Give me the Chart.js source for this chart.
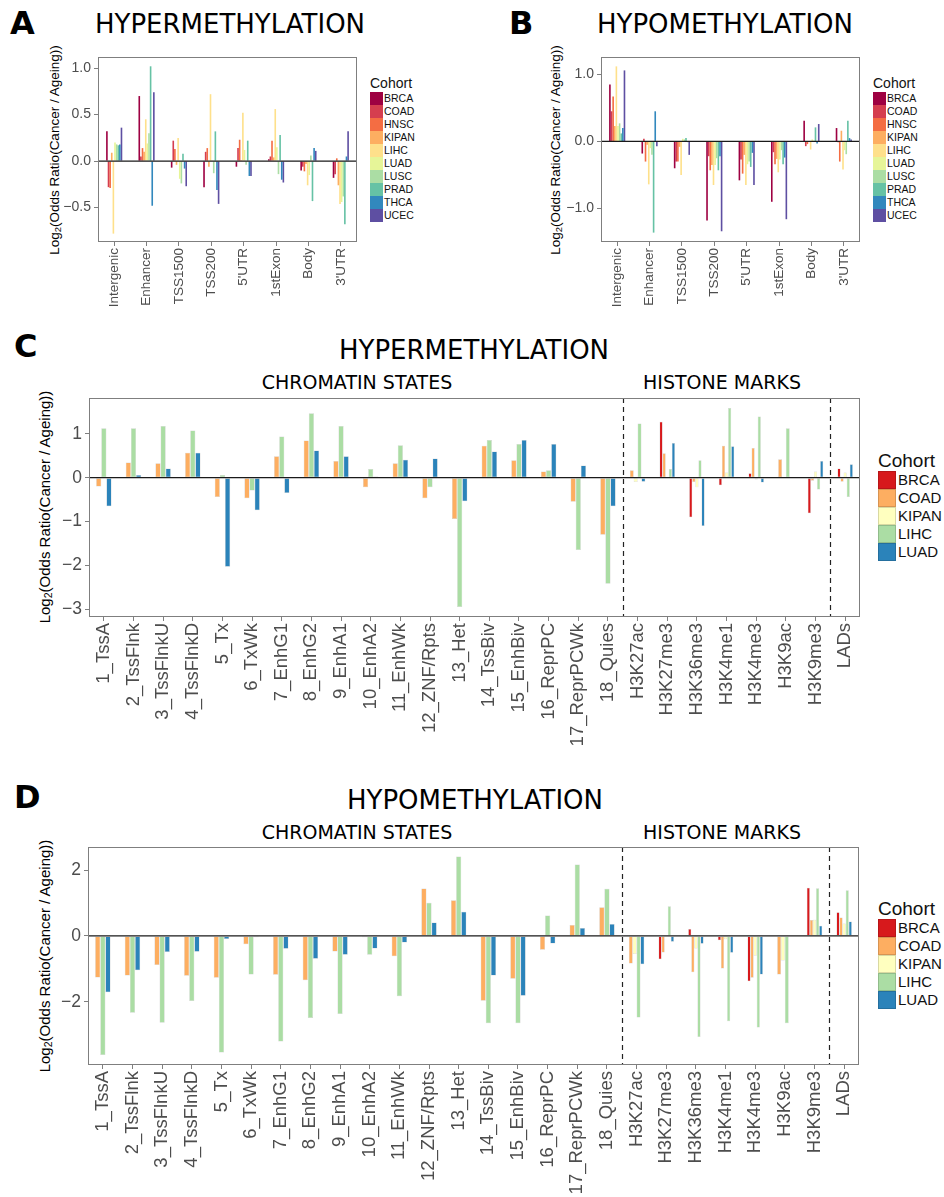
<!DOCTYPE html>
<html>
<head>
<meta charset="utf-8">
<script src="https://cdn.jsdelivr.net/npm/chart.js@4.4.1/dist/chart.umd.min.js"></script>
<style>
  body { margin: 0; background: #fff; width: 944px; height: 1197px; position: relative; overflow: hidden;
         font-family: "Liberation Sans", Arial, sans-serif; }
  canvas { position: absolute; }
  .tag { position: absolute; font-family: "DejaVu Sans"; font-weight: bold; font-size: 32px; line-height: 1; color: #000; }
  .title { position: absolute; font-family: "DejaVu Sans"; font-size: 26px; line-height: 1; white-space: nowrap;
           transform: translateX(-50%); color: #000; }
  .section { position: absolute; font-family: "DejaVu Sans"; font-size: 19px; line-height: 1; white-space: nowrap;
             transform: translateX(-50%); color: #000; }
  .ylab { position: absolute; white-space: nowrap; line-height: 1; color: #000;
          transform: translate(-50%, -50%) rotate(-90deg); }
  .ylab sub { font-size: 70%; vertical-align: -0.2em; }
  .legend { position: absolute; color: #111; }
  .legend .ttl { position: absolute; left: 0; white-space: nowrap; line-height: 1; }
  .legend .item { position: absolute; left: 0; }
  .legend .sw { position: absolute; left: 0; top: 0; }
  .legend .txt { position: absolute; top: 0; white-space: nowrap; }
</style>
</head>
<body>

<div class="tag" style="left:10px; top:7px;">A</div>
<div class="title" style="left:230px; top:11px;">HYPERMETHYLATION</div>
<div class="tag" style="left:509px; top:7px;">B</div>
<div class="title" style="left:725px; top:11px;">HYPOMETHYLATION</div>

<div class="tag" style="left:14px; top:330px;">C</div>
<div class="title" style="left:474px; top:337px;">HYPERMETHYLATION</div>
<div class="section" style="left:357px; top:373px;">CHROMATIN STATES</div>
<div class="section" style="left:722px; top:373px;">HISTONE MARKS</div>

<div class="tag" style="left:14px; top:781px;">D</div>
<div class="title" style="left:475px; top:787px;">HYPOMETHYLATION</div>
<div class="section" style="left:357px; top:823px;">CHROMATIN STATES</div>
<div class="section" style="left:722px; top:823px;">HISTONE MARKS</div>

<div class="ylab" style="left:55px; top:150px; font-size:13.5px;">Log<sub>2</sub>(Odds Ratio(Cancer / Ageing))</div>
<div class="ylab" style="left:556px; top:150px; font-size:13.5px;">Log<sub>2</sub>(Odds Ratio(Cancer / Ageing))</div>
<div class="ylab" style="left:45px; top:507px; font-size:15px;">Log<sub>2</sub>(Odds Ratio(Cancer / Ageing))</div>
<div class="ylab" style="left:45px; top:956px; font-size:15px;">Log<sub>2</sub>(Odds Ratio(Cancer / Ageing))</div>

<canvas id="chartA" width="307" height="250" style="left:50px; top:57px;"></canvas>
<canvas id="chartB" width="307" height="250" style="left:553px; top:57px;"></canvas>
<canvas id="chartC" width="820" height="369" style="left:40px; top:398px;"></canvas>
<canvas id="chartD" width="819" height="350" style="left:40px; top:847px;"></canvas>

<div id="legA"></div><div id="legB"></div><div id="legC"></div><div id="legD"></div>

<script>
// ---- panels A / B : genomic regions, 10 cohorts ----
const regionLabels = ['Intergenic', 'Enhancer', 'TSS1500', 'TSS200', "5'UTR", '1stExon', 'Body', "3'UTR"];
const pancanCohorts = ['BRCA', 'COAD', 'HNSC', 'KIPAN', 'LIHC', 'LUAD', 'LUSC', 'PRAD', 'THCA', 'UCEC'];
const pancanColors = ['#9E0142', '#D53E4F', '#F46D43', '#FDAE61', '#FEE08B',
                      '#E6F598', '#ABDDA4', '#66C2A5', '#3288BD', '#5E4FA2'];

// one row per cohort (pancanCohorts order), one column per region
const hyperRegion = [
  [ 0.32,  0.70, -0.07, -0.28, -0.06,  0.02, -0.10, -0.18],
  [-0.28,  0.05,  0.22,  0.10,  0.14,  0.05, -0.06, -0.14],
  [-0.29,  0.14,  0.13,  0.14,  0.23,  0.22, -0.11,  0.03],
  [ 0.09,  0.10, -0.04, -0.06,  0.01,  0.04, -0.03, -0.26],
  [-0.78,  0.45,  0.25,  0.72,  0.52,  0.56, -0.26, -0.46],
  [ 0.20,  0.19, -0.19,  0.01,  0.12,  0.15, -0.15, -0.44],
  [ 0.18,  0.30, -0.24, -0.13, -0.04, -0.14,  0.06, -0.38],
  [ 0.17,  1.02,  0.08,  0.32,  0.22,  0.28, -0.43, -0.68],
  [ 0.18, -0.48, -0.08, -0.31, -0.16, -0.20,  0.14,  0.05],
  [ 0.36,  0.74, -0.27, -0.46, -0.16, -0.23,  0.11,  0.32]
];
const hypoRegion = [
  [ 0.85, -0.18, -0.40, -1.18, -0.58, -0.90,  0.31,  0.20],
  [ 0.45,  0.04, -0.30, -0.22, -0.27, -0.16, -0.07, -0.01],
  [ 0.67, -0.30, -0.30, -0.43, -0.48, -0.34, -0.04, -0.30],
  [ 0.23, -0.05, -0.08, -0.35, -0.20, -0.26,  0.00,  0.16],
  [ 1.12, -0.64, -0.50, -0.65, -0.65, -0.46, -0.12, -0.42],
  [ 0.23, -0.10,  0.04, -0.35, -0.34, -0.27,  0.03, -0.13],
  [ 0.27, -0.20,  0.03, -0.25, -0.30, -0.13,  0.01, -0.19],
  [ 0.12, -1.36,  0.05, -0.43, -0.38, -0.34,  0.21,  0.31],
  [ 0.20,  0.45, -0.01, -0.22, -0.17, -0.24, -0.03,  0.05],
  [ 1.06, -0.07, -0.20, -1.34, -0.65, -1.16,  0.26,  0.03]
];
const hyperRegionTicks = [-0.5, 0, 0.5, 1.0];
const hypoRegionTicks = [-1.0, 0, 1.0];

// ---- panels C / D : chromatin states + histone marks, 5 cohorts ----
const stateLabels = ['1_TssA', '2_TssFlnk', '3_TssFlnkU', '4_TssFlnkD', '5_Tx', '6_TxWk', '7_EnhG1', '8_EnhG2',
  '9_EnhA1', '10_EnhA2', '11_EnhWk', '12_ZNF/Rpts', '13_Het', '14_TssBiv', '15_EnhBiv', '16_ReprPC',
  '17_ReprPCWk', '18_Quies', 'H3K27ac', 'H3K27me3', 'H3K36me3', 'H3K4me1', 'H3K4me3', 'H3K9ac',
  'H3K9me3', 'LADs'];
const stateCohorts = ['BRCA', 'COAD', 'KIPAN', 'LIHC', 'LUAD'];
const stateColors = ['#D7191C', '#FDAE61', '#FFFFBF', '#ABDDA4', '#2B83BA'];

// rows = stateCohorts; first 18 columns chromatin states, then 7 histone marks, then LADs
const hyperState = [
  [null, null, null, null, null, null, null, null, null, null, null, null, null, null, null, null, null, null,
   null, 1.28, -0.90, -0.17, 0.10, null, -0.81, 0.21],
  [-0.20, 0.35, 0.33, 0.57, -0.44, -0.47, 0.49, 0.85, 0.38, -0.22, 0.33, -0.47, -0.94, 0.73, 0.40, 0.14, -0.55, -1.30,
   0.17, 0.56, -0.10, 0.73, 0.68, 0.42, -0.07, -0.09],
  [null, null, null, null, null, null, null, null, null, null, null, null, null, null, null, null, null, null,
   -0.10, 0.00, -0.22, 0.12, -0.04, 0.00, 0.14, 0.12],
  [1.13, 1.13, 1.18, 1.08, 0.06, -0.29, 0.94, 1.47, 1.18, 0.20, 0.74, -0.22, -2.95, 0.86, 0.77, 0.17, -1.65, -2.42,
   1.24, 0.20, 0.40, 1.59, 1.40, 1.13, -0.27, -0.44],
  [-0.65, 0.06, 0.21, 0.57, -2.03, -0.74, -0.35, 0.62, 0.49, 0.03, 0.41, 0.44, -0.54, 0.60, 0.86, 0.77, 0.28, -0.65,
   -0.09, 0.79, -1.10, 0.72, -0.11, 0.00, 0.38, 0.31]
];
const hypoState = [
  [null, null, null, null, null, null, null, null, null, null, null, null, null, null, null, null, null, null,
   null, -0.71, 0.21, -0.13, -1.38, null, 1.46, 0.72],
  [-1.26, -1.20, -0.88, -1.21, -1.27, -0.25, -1.18, -1.35, -0.47, -0.04, -0.62, 1.44, 1.08, -1.97, -1.30, -0.42, 0.33, 0.87,
   -0.84, -0.50, -1.10, -0.99, -1.27, -1.17, 0.48, 0.56],
  [null, null, null, null, null, null, null, null, null, null, null, null, null, null, null, null, null, null,
   -0.55, 0.00, -0.38, -0.10, -0.60, -0.75, 0.49, 0.38],
  [-3.62, -2.33, -2.64, -1.98, -3.54, -1.17, -3.21, -2.49, -2.37, -0.57, -1.83, 1.01, 2.41, -2.65, -2.65, 0.62, 2.17, 1.43,
   -2.48, 0.90, -3.07, -2.59, -2.78, -2.65, 1.45, 1.39],
  [-1.71, -1.04, -0.49, -0.48, -0.09, -0.04, -0.39, -0.69, -0.57, -0.38, -0.20, 0.41, 0.73, -1.20, -1.82, -0.23, 0.24, 0.36,
   -0.86, -0.18, -0.24, -0.51, -1.17, 0.00, 0.31, 0.44]
];
const hyperStateTicks = [-3, -2, -1, 0, 1];
const hypoStateTicks = [-2, 0, 2];
const stateDividers = [18, 25];   // dashed line before H3K27ac and before LADs

const TICK_COL = '#4D4D4D';
const FRAME_COL = '#7F7F7F';
const fmtMinus = s => s.replace('-', '\u2212');

// zero line, dashed section dividers and panel border
const framePlugin = {
  id: 'frame',
  afterDatasetsDraw(chart, args, opts) {
    const { ctx, chartArea: a, scales } = chart;
    const y0 = scales.y.getPixelForValue(0);
    ctx.save();
    ctx.strokeStyle = '#1a1a1a';
    ctx.lineWidth = 1.2;
    ctx.beginPath();
    ctx.moveTo(a.left, y0);
    ctx.lineTo(a.right, y0);
    ctx.stroke();

    (opts.dividers || []).forEach(idx => {
      const x = Math.round((scales.x.getPixelForValue(idx - 1) + scales.x.getPixelForValue(idx)) / 2) + 0.5;
      ctx.setLineDash([5, 4]);
      ctx.strokeStyle = '#222';
      ctx.lineWidth = 1.2;
      ctx.beginPath();
      ctx.moveTo(x, a.top);
      ctx.lineTo(x, a.bottom);
      ctx.stroke();
    });

    ctx.setLineDash([]);
    ctx.strokeStyle = FRAME_COL;
    ctx.lineWidth = 1;
    ctx.strokeRect(a.left + 0.5, a.top + 0.5, a.width - 1, a.height - 1);
    ctx.restore();
  }
};

function makePanel(canvasId, cfg) {
  const datasets = cfg.cohorts.map((name, i) => ({
    label: name,
    data: cfg.values[i],
    backgroundColor: cfg.colors[i],
    borderColor: cfg.borderColor,
    borderWidth: cfg.borderWidth,
    borderSkipped: false,
    skipNull: true,
    categoryPercentage: cfg.groupWidth,
    barPercentage: 1.0
  }));

  return new Chart(document.getElementById(canvasId), {
    type: 'bar',
    data: { labels: cfg.labels, datasets: datasets },
    options: {
      responsive: false,
      animation: false,
      devicePixelRatio: 1,
      layout: { padding: 0 },
      plugins: {
        legend: { display: false },
        tooltip: { enabled: false },
        frame: { dividers: cfg.dividers }
      },
      scales: {
        x: {
          ticks: {
            autoSkip: false, minRotation: 90, maxRotation: 90, padding: 2,
            color: TICK_COL, font: { family: 'Liberation Sans', size: cfg.xFont }
          },
          grid: { display: true, drawOnChartArea: false, drawTicks: true, tickLength: 4, offset: false, color: FRAME_COL },
          border: { display: false },
          afterFit: s => { s.height = cfg.xAxisH; s.paddingLeft = 0; s.paddingRight = 0; }
        },
        y: {
          min: cfg.yMin,
          max: cfg.yMax,
          afterBuildTicks: s => { s.ticks = cfg.ticks.map(v => ({ value: v })); },
          ticks: {
            padding: 3,
            color: TICK_COL,
            font: { family: 'Liberation Sans', size: cfg.yFont },
            callback: v => fmtMinus(v.toFixed(cfg.decimals))
          },
          grid: { display: true, drawOnChartArea: false, drawTicks: true, tickLength: 4, color: FRAME_COL },
          border: { display: false },
          afterFit: s => { s.width = cfg.yAxisW; s.paddingTop = 0; s.paddingBottom = 0; }
        }
      }
    },
    plugins: [framePlugin]
  });
}

function buildLegend(hostId, cohorts, colors, o) {
  const host = document.getElementById(hostId);
  host.className = 'legend';
  host.style.left = o.left + 'px';
  host.style.top = '0px';
  const ttl = document.createElement('div');
  ttl.className = 'ttl';
  ttl.textContent = 'Cohort';
  ttl.style.fontSize = o.titleSize + 'px';
  ttl.style.top = (o.titleBaseline - 0.85 * o.titleSize) + 'px';
  host.appendChild(ttl);
  cohorts.forEach((name, i) => {
    const item = document.createElement('div');
    item.className = 'item';
    item.style.top = (o.swTop + i * o.sh) + 'px';
    const sw = document.createElement('div');
    sw.className = 'sw';
    sw.style.width = o.sw + 'px';
    sw.style.height = o.sh + 'px';
    sw.style.background = colors[i];
    if (o.outline) sw.style.boxShadow = 'inset 0 0 0 1px rgba(0,0,0,0.15)';
    const txt = document.createElement('div');
    txt.className = 'txt';
    txt.textContent = name;
    txt.style.left = o.textLeft + 'px';
    txt.style.fontSize = o.textSize + 'px';
    txt.style.lineHeight = o.sh + 'px';
    item.appendChild(sw);
    item.appendChild(txt);
    host.appendChild(item);
  });
}

const regionCommon = {
  labels: regionLabels, cohorts: pancanCohorts, colors: pancanColors,
  borderColor: 'rgba(0,0,0,0)', borderWidth: 0, groupWidth: 0.5,
  xFont: 13.5, yFont: 14, xAxisH: 65, yAxisW: 48, decimals: 1
};
const stateCommon = {
  labels: stateLabels, cohorts: stateCohorts, colors: stateColors,
  borderColor: 'rgba(90,90,90,0.3)', borderWidth: 0.5, groupWidth: 0.52,
  xFont: 18.5, yFont: 17.5, yAxisW: 49, decimals: 0, dividers: stateDividers
};

makePanel('chartA', { ...regionCommon, values: hyperRegion, yMin: -0.87, yMax: 1.12, ticks: hyperRegionTicks });
makePanel('chartB', { ...regionCommon, values: hypoRegion, yMin: -1.5, yMax: 1.26, ticks: hypoRegionTicks });
makePanel('chartC', { ...stateCommon, values: hyperState, yMin: -3.18, yMax: 1.82, ticks: hyperStateTicks, xAxisH: 150 });
makePanel('chartD', { ...stateCommon, values: hypoState, yMin: -3.92, yMax: 2.7, ticks: hypoStateTicks, xAxisH: 132, yAxisW: 48 });

buildLegend('legA', pancanCohorts, pancanColors,
  { left: 370, titleBaseline: 88, titleSize: 14, swTop: 92, sw: 13, sh: 13, textLeft: 14, textSize: 10.5 });
buildLegend('legB', pancanCohorts, pancanColors,
  { left: 873, titleBaseline: 88, titleSize: 14, swTop: 92, sw: 13, sh: 13, textLeft: 14, textSize: 10.5 });
buildLegend('legC', stateCohorts, stateColors,
  { left: 878, titleBaseline: 467, titleSize: 19, swTop: 471, sw: 18, sh: 18, textLeft: 20, textSize: 15, outline: true });
buildLegend('legD', stateCohorts, stateColors,
  { left: 878, titleBaseline: 915, titleSize: 19, swTop: 919, sw: 18, sh: 18, textLeft: 20, textSize: 15, outline: true });
</script>
</body>
</html>
